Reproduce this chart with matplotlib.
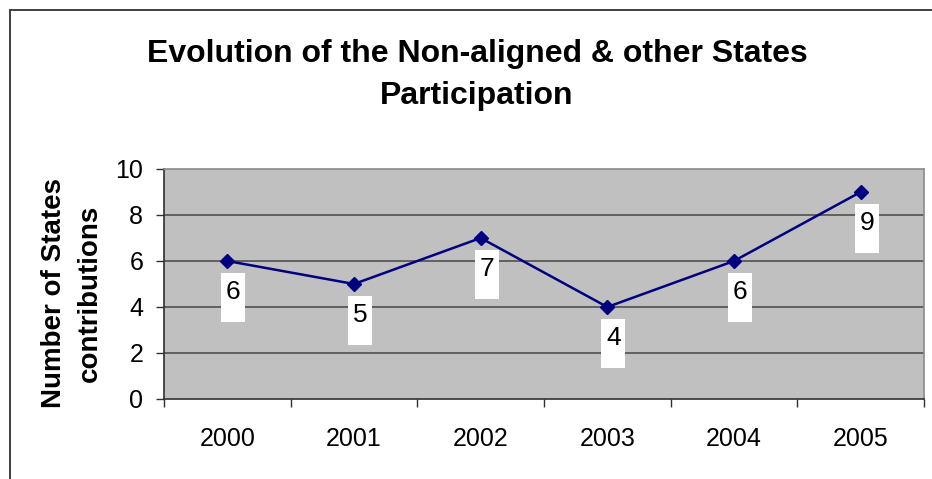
import matplotlib
matplotlib.use("Agg")
import matplotlib.pyplot as plt
from matplotlib.patches import Rectangle

plt.rcParams['font.family'] = ['Liberation Sans', 'DejaVu Sans']

# data
years = ['2000', '2001', '2002', '2003', '2004', '2005']
contributions = [6, 5, 7, 4, 6, 9]

W, H = 932, 479
fig = plt.figure(figsize=(W / 100, H / 100), dpi=100)
ax = fig.add_axes([164 / W, 1 - 399 / H, (924 - 164) / W, (399 - 169) / H])

ax.set_facecolor('#C0C0C0')
xs = list(range(len(years)))
ax.plot(xs, contributions, color='#000080', lw=1.8, marker='D', markersize=7.5,
        zorder=3, clip_on=False)

ax.set_xlim(-0.5, len(years) - 0.5)
ax.set_ylim(0, 10)
ax.set_yticks(range(0, 11, 2))
for g in range(2, 10, 2):
    ax.axhline(g, color='#505050', lw=1.2, zorder=1)

ax.set_xticks(xs)
ax.set_xticklabels(years)
ax.set_xticks([x - 0.5 for x in xs] + [len(years) - 0.5], minor=True)
ax.tick_params(axis='x', which='major', length=0, pad=20, labelsize=18)
ax.tick_params(axis='x', which='minor', length=6, width=1, color='#303030', direction='out')
ax.tick_params(axis='y', length=6, width=1, color='#303030', pad=9, labelsize=18)

for s in ['top', 'right']:
    ax.spines[s].set_color('#8a8a8a')
    ax.spines[s].set_linewidth(1.2)
for s in ['left', 'bottom']:
    ax.spines[s].set_color('#303030')
    ax.spines[s].set_linewidth(1.2)

# titles
fig.text(477 / W, 1 - 62 / H, 'Evolution of the Non-aligned & other States',
         ha='center', va='baseline', fontsize=23, fontweight='bold')
fig.text(477 / W, 1 - 104 / H, 'Participation',
         ha='center', va='baseline', fontsize=23, fontweight='bold')
fig.text(54 / W, 1 - 293 / H, 'Number of States', rotation=90,
         ha='center', va='center', fontsize=20, fontweight='bold')
fig.text(90 / W, 1 - 293 / H, 'contributions', rotation=90,
         ha='center', va='center', fontsize=20, fontweight='bold')

# outer chart border
fig.add_artist(Rectangle((9.5 / W, -0.1), 1.2, 1 - 9.5 / H + 0.1,
                         transform=fig.transFigure, fill=False,
                         edgecolor='#303030', lw=1.3))

# data labels in white boxes
for x, v in zip(xs, contributions):
    px, py = ax.transData.transform((x, v))
    bx = px + 6 - 12
    btop = py - 12
    fig.add_artist(Rectangle((bx / W, (btop - 49) / H), 24 / W, 49 / H,
                             transform=fig.transFigure, facecolor='white',
                             edgecolor='none', zorder=5))
    fig.text((bx + 12) / W, (btop - 19) / H, str(v), ha='center', va='center',
             fontsize=19, zorder=6)

fig.savefig('out.png', dpi=100)
